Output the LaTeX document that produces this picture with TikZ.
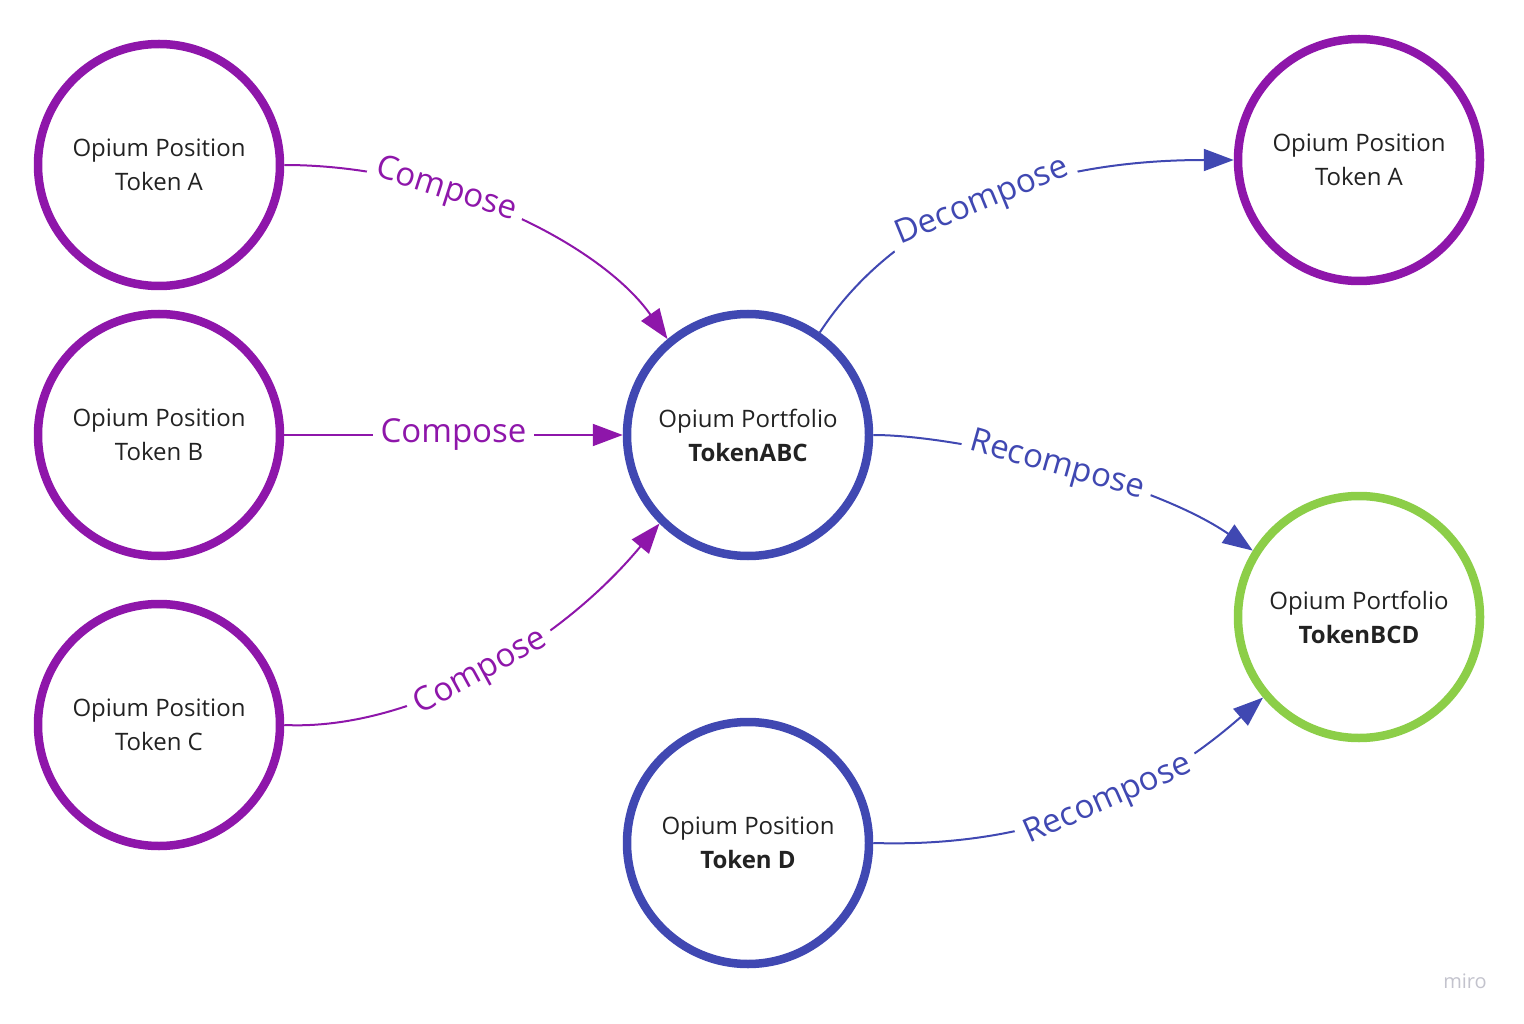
\documentclass[tikz,border=0pt]{standalone}
\usepackage{fontspec}
\setmainfont{Open Sans}
\usetikzlibrary{arrows.meta}
\definecolor{opurple}{RGB}{142,22,170}
\definecolor{oblue}{RGB}{64,72,178}
\definecolor{ogreen}{RGB}{140,206,72}
\definecolor{otext}{RGB}{34,34,34}
\definecolor{mirogray}{RGB}{195,195,205}
\begin{document}
\begin{tikzpicture}[x=1pt,y=-1pt,
  token/.style={circle, draw, line width=8.5pt, minimum size=242pt, inner sep=0pt,
    align=center, text=otext, font=\fontsize{24}{34}\selectfont},
  conn/.style={line width=2pt, -{Triangle[length=30pt,width=22pt]}},
  lab/.style={fill=white, inner xsep=8pt, inner ysep=1pt, sloped,
    font=\fontsize{33}{36}\selectfont}]
\useasboundingbox (0,0) rectangle (1524,1024);
% nodes
\node[token, draw=opurple] (A) at (159,165) {Opium Position\\Token A};
\node[token, draw=opurple] (B) at (159,435) {Opium Position\\Token B};
\node[token, draw=opurple] (C) at (159,725) {Opium Position\\Token C};
\node[token, draw=oblue] (ABC) at (748,435) {Opium Portfolio\\\textbf{TokenABC}};
\node[token, draw=opurple] (RA) at (1359,160) {Opium Position\\Token A};
\node[token, draw=ogreen] (BCD) at (1359,617) {Opium Portfolio\\\textbf{TokenBCD}};
\node[token, draw=oblue] (D) at (748,843) {Opium Position\\\textbf{Token D}};
% connectors
\draw[conn, opurple] (A.0) .. controls (450,165) and (603,247) .. (ABC.130)
  node[lab, pos=0.34, text=opurple] {Compose};
\draw[conn, opurple] (B.0) -- (ABC.180)
  node[lab, midway, text=opurple] {Compose};
\draw[conn, opurple] (C.0) .. controls (410,731) and (558,646) .. (ABC.225.6)
  node[lab, pos=0.5, text=opurple] {Compose};
\draw[conn, oblue] (ABC.55) .. controls (880,240) and (1000,160) .. (RA.180)
  node[lab, pos=0.55, text=oblue] {Decompose};
\draw[conn, oblue] (ABC.0) .. controls (960,435) and (1150,480) .. (BCD.148)
  node[lab, pos=0.5, text=oblue] {Recompose};
\draw[conn, oblue] (D.0) .. controls (1065,849) and (1178,772) .. (BCD.220)
  node[lab, pos=0.5, text=oblue] {Recompose};
% watermark
\node[text=mirogray, font=\fontsize{20}{20}\selectfont] (miro) at (1465,981) {miro};
\end{tikzpicture}
\end{document}
